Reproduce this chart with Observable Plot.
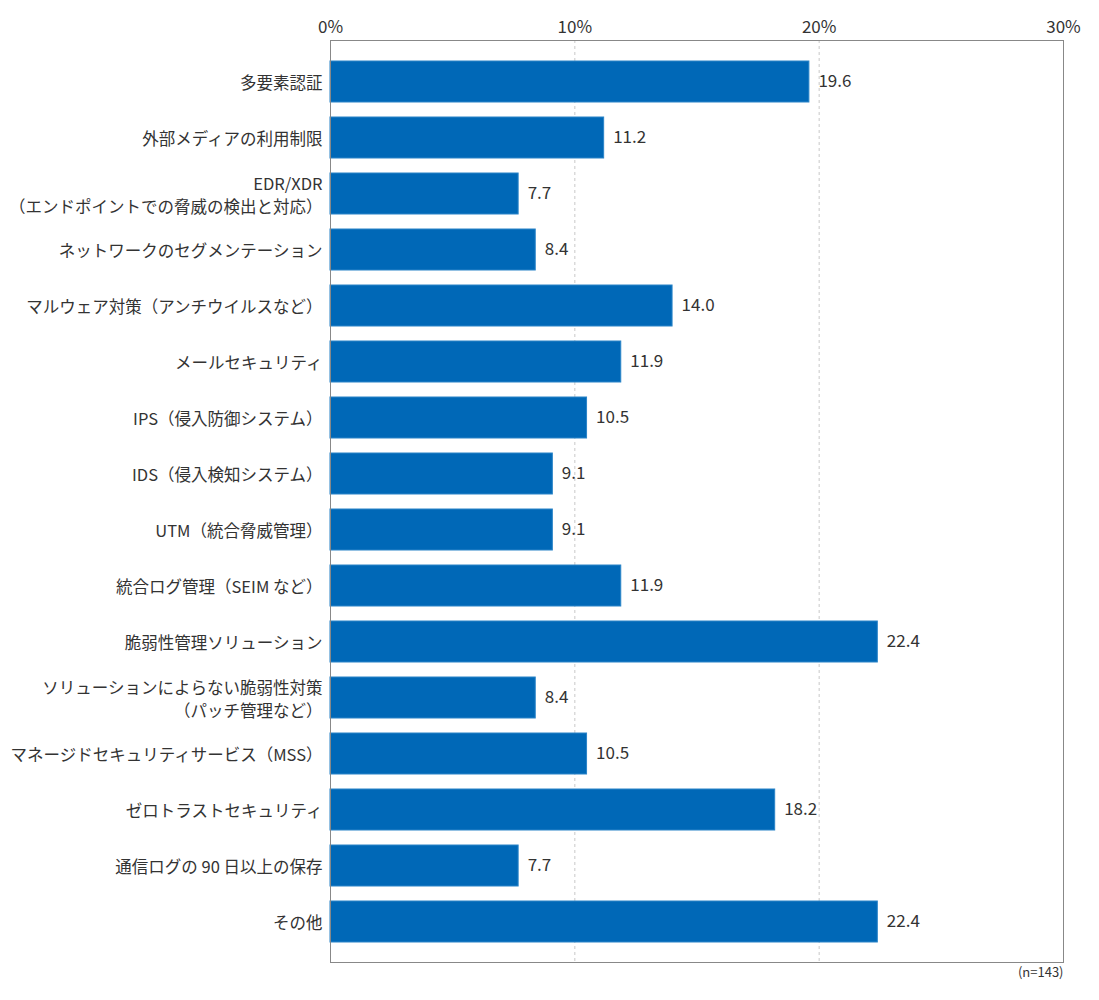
<!DOCTYPE html>
<html><head><meta charset="utf-8">
<script src="https://cdn.jsdelivr.net/npm/d3@7"></script>
<script src="https://cdn.jsdelivr.net/npm/@observablehq/plot@0.6"></script>
<style>
body{margin:0;background:#fff;font-family:"Noto Sans CJK JP",sans-serif;}
</style></head><body>
<div id="chart"></div>
<script>
const categories = [
  "多要素認証",
  "外部メディアの利用制限",
  "EDR/XDR\n（エンドポイントでの脅威の検出と対応）",
  "ネットワークのセグメンテーション",
  "マルウェア対策（アンチウイルスなど）",
  "メールセキュリティ",
  "IPS（侵入防御システム）",
  "IDS（侵入検知システム）",
  "UTM（統合脅威管理）",
  "統合ログ管理（SEIM など）",
  "脆弱性管理ソリューション",
  "ソリューションによらない脆弱性対策\n（パッチ管理など）",
  "マネージドセキュリティサービス（MSS）",
  "ゼロトラストセキュリティ",
  "通信ログの 90 日以上の保存",
  "その他"
];
const values = [19.6, 11.2, 7.7, 8.4, 14.0, 11.9, 10.5, 9.1, 9.1, 11.9, 22.4, 8.4, 10.5, 18.2, 7.7, 22.4];
const xTicks = [0, 10, 20, 30];
const note = "(n=143)";

const data = categories.map((c, i) => ({category: c, value: values[i]}));

const chart = Plot.plot({
  width: 1099,
  height: 1000,
  marginLeft: 330,
  marginRight: 36,
  marginTop: 40,
  marginBottom: 38,
  style: {fontFamily: '"Noto Sans CJK JP", sans-serif', color: "#333", background: "#fff"},
  x: {domain: [0, 30], ticks: xTicks},
  y: {domain: categories, paddingInner: 0.27, paddingOuter: 0.335},
  marks: [
    Plot.ruleX([10, 20], {stroke: "#c8c8c8", strokeDasharray: "3,3"}),
    Plot.barX(data, {x: "value", y: "category", fill: "#0068b7", stroke: "#2a84c8", strokeWidth: 1}),
    Plot.text(data, {x: "value", y: "category", text: d => d.value.toFixed(1), textAnchor: "start", dx: 9, fontSize: 17, fill: "#333"}),
    Plot.frame({stroke: "#888"}),
    Plot.axisX({anchor: "top", ticks: xTicks, tickSize: 0, tickPadding: 8, fontSize: 17, tickFormat: d => d + "%", label: null}),
    Plot.axisY({tickSize: 0, tickPadding: 8, fontSize: 16.5, lineHeight: 1.38, label: null}),
    Plot.text([note], {frameAnchor: "bottom-right", dy: 14, fontSize: 13, fill: "#333", textAnchor: "end"})
  ]
});
document.getElementById("chart").appendChild(chart);
</script>
</body></html>
